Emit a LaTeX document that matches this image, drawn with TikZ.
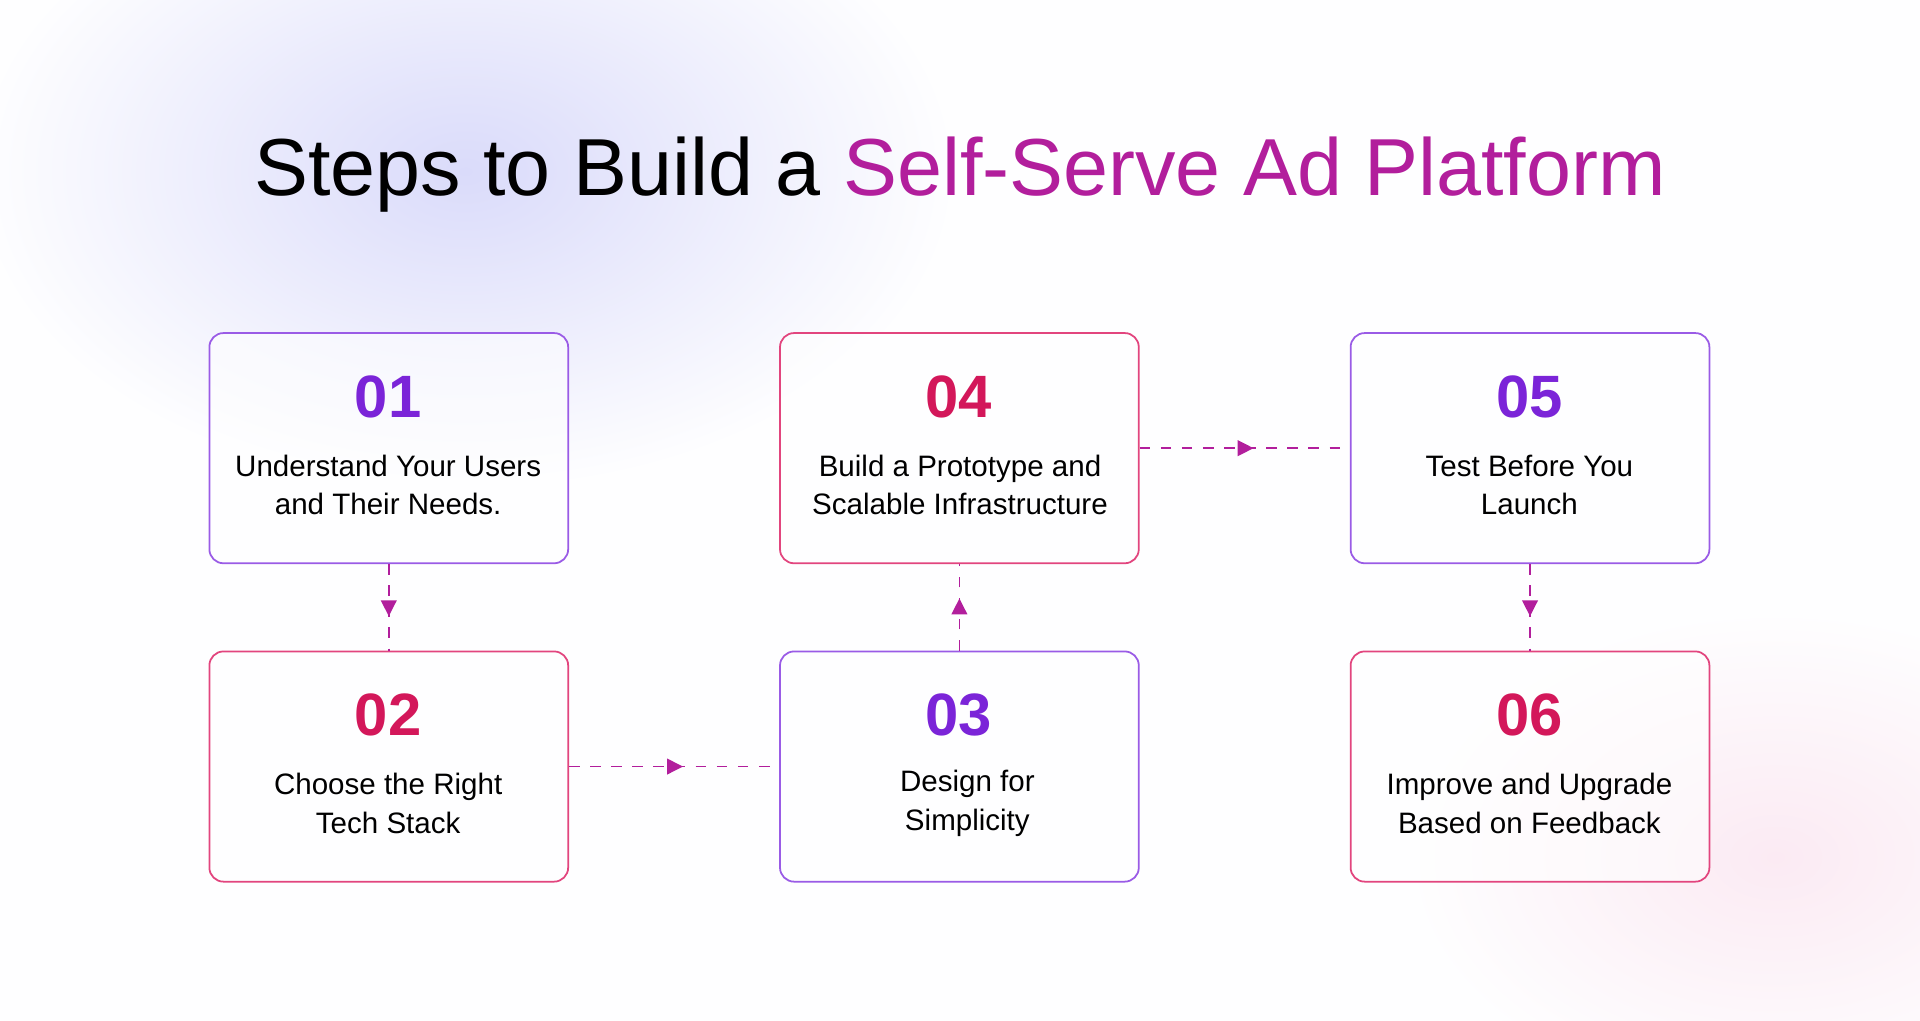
\documentclass[tikz,border=0pt]{standalone}
\usepackage{fontspec}
\setmainfont{Liberation Sans}
\usetikzlibrary{decorations.markings,arrows.meta}
\definecolor{cpur}{HTML}{9A5BE6}
\definecolor{cpink}{HTML}{E2457E}
\definecolor{npur}{HTML}{7B24D8}
\definecolor{npink}{HTML}{D3175A}
\definecolor{tmag}{HTML}{B21E9C}
\definecolor{lav}{HTML}{DADBFA}
\definecolor{rose}{HTML}{FBEAF3}
\tikzset{
  stepbox/.style={draw, line width=0.5pt, rounded corners=4pt, fill=white, fill opacity=0.55, text opacity=1, minimum width=293*0.012245cm, minimum height=188*0.012245cm},
  num/.style={font=\bfseries\fontsize{17}{20}\selectfont},
  body/.style={font=\fontsize{8.4}{11}\selectfont, align=center},
  conn/.style={draw=tmag, dashed, dash pattern=on 3pt off 3pt, line width=0.5pt,
    postaction={decorate}, decoration={markings, mark=at position 0.5 with {\fill[tmag] (2.5pt,0) -- (-2pt,2.3pt) -- (-2pt,-2.3pt) -- cycle;}}}
}
\begin{document}
\begin{tikzpicture}[x=0.012245cm,y=-0.012245cm]
\useasboundingbox (0,0) rectangle (1568,833);
\fill[white!97!lav] (0,0) rectangle (1568,833);
\shade[inner color=lav, outer color=white!97!lav] (380,140) ellipse (400 and 260);
\shade[inner color=rose, outer color=white!97!lav] (1450,700) ellipse (300 and 200);
\node[font=\fontsize{23}{28}\selectfont, anchor=base] (title) at (784,160) {Steps to Build a \textcolor{tmag}{Self-Serve Ad Platform}};
% boxes
\node[stepbox, draw=cpur] (b1) at (317.5,366) {};
\node[stepbox, draw=cpink] (b2) at (317.5,626) {};
\node[stepbox, draw=cpur] (b3) at (783.5,626) {};
\node[stepbox, draw=cpink] (b4) at (783.5,366) {};
\node[stepbox, draw=cpur] (b5) at (1249.5,366) {};
\node[stepbox, draw=cpink] (b6) at (1249.5,626) {};
% texts
\node[num, text=npur] (n1) at (317,324) {01};
\node[body] (t1) at (317,396) {Understand Your Users\\and Their Needs.};
\node[num, text=npink] (n2) at (317,584) {02};
\node[body] (t2) at (317,656) {Choose the Right\\Tech Stack};
\node[num, text=npur] (n3) at (783,584) {03};
\node[body] (t3) at (790,656) {Design for\\Simplicity};
\node[num, text=npink] (n4) at (783,324) {04};
\node[body] (t4) at (784,396) {Build a Prototype and\\Scalable Infrastructure};
\node[num, text=npur] (n5) at (1249,324) {05};
\node[body] (t5) at (1249,396) {Test Before You\\Launch};
\node[num, text=npink] (n6) at (1249,584) {06};
\node[body] (t6) at (1249,656) {Improve and Upgrade\\Based on Feedback};
% connectors
\draw[conn] (b1.south) -- (b2.north);
\draw[conn] (b2.east) -- (b3.west);
\draw[conn] (b3.north) -- (b4.south);
\draw[conn] (b4.east) -- (b5.west);
\draw[conn] (b5.south) -- (b6.north);
\end{tikzpicture}
\end{document}
